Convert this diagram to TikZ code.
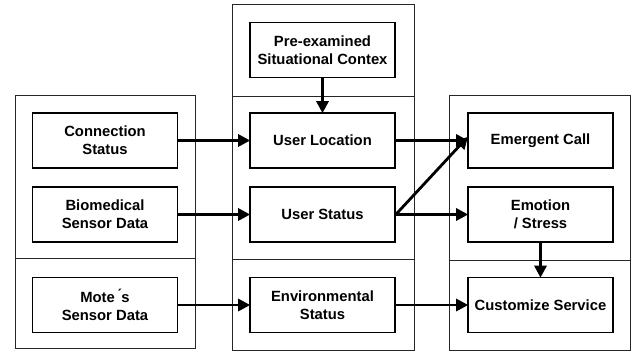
\documentclass[tikz,border=0pt]{standalone}
\usepackage{fontspec}
\setmainfont{Liberation Sans}
\usetikzlibrary{arrows.meta}
\begin{document}
\begin{tikzpicture}[x=1pt,y=-1pt,
  panel/.style={draw=black!85, line width=1pt},
  stage/.style={draw=black, line width=1.6pt, fill=white, minimum width=145pt, minimum height=55pt,
    align=center, font=\fontsize{14.8}{18}\selectfont\bfseries, inner sep=2pt},
  flow/.style={line width=2.8pt, -{Triangle[length=12pt,width=12pt]}, shorten >=-1pt}]
  \useasboundingbox (0,0) rectangle (632,351);
  % column frames
  \draw[panel] (15,95) rectangle (195,348);
  \draw[panel] (15,258) -- (195,258);
  \draw[panel] (232,4) rectangle (414,350);
  \draw[panel] (232,96) -- (414,96);
  \draw[panel] (232,259) -- (414,259);
  \draw[panel] (449,95) rectangle (630,350);
  \draw[panel] (449,260) -- (630,260);
  % sources
  \node[stage] (conn) at (105,140.5) {Connection\\Status};
  \node[stage] (bio) at (105,214.5) {Biomedical\\Sensor Data};
  \node[stage] (mote) at (105,305) {Mote\,\'{}s\\Sensor Data};
  % context
  \node[stage] (pre) at (322.5,50) {Pre-examined\\Situational Contex};
  \node[stage] (loc) at (322.5,140.5) {User Location};
  \node[stage] (ust) at (322.5,214.5) {User Status};
  \node[stage] (env) at (322.5,305) {Environmental\\Status};
  % services
  \node[stage] (call) at (540.5,140.5) {Emergent Call};
  \node[stage] (emo) at (540.5,214.5) {Emotion\\/ Stress};
  \node[stage] (cust) at (540.5,305) {Customize Service};
  % connectors
  \draw[flow] (conn) -- (loc);
  \draw[flow] (bio) -- (ust);
  \draw[flow] (mote) -- (env);
  \draw[flow] (pre) -- (loc);
  \draw[flow] (loc) -- (call);
  \draw[flow] (ust.east) -- ([yshift=3pt]call.west);
  \draw[flow] (ust) -- (emo);
  \draw[flow] (env) -- (cust);
  \draw[flow] (emo) -- (cust);
\end{tikzpicture}
\end{document}
